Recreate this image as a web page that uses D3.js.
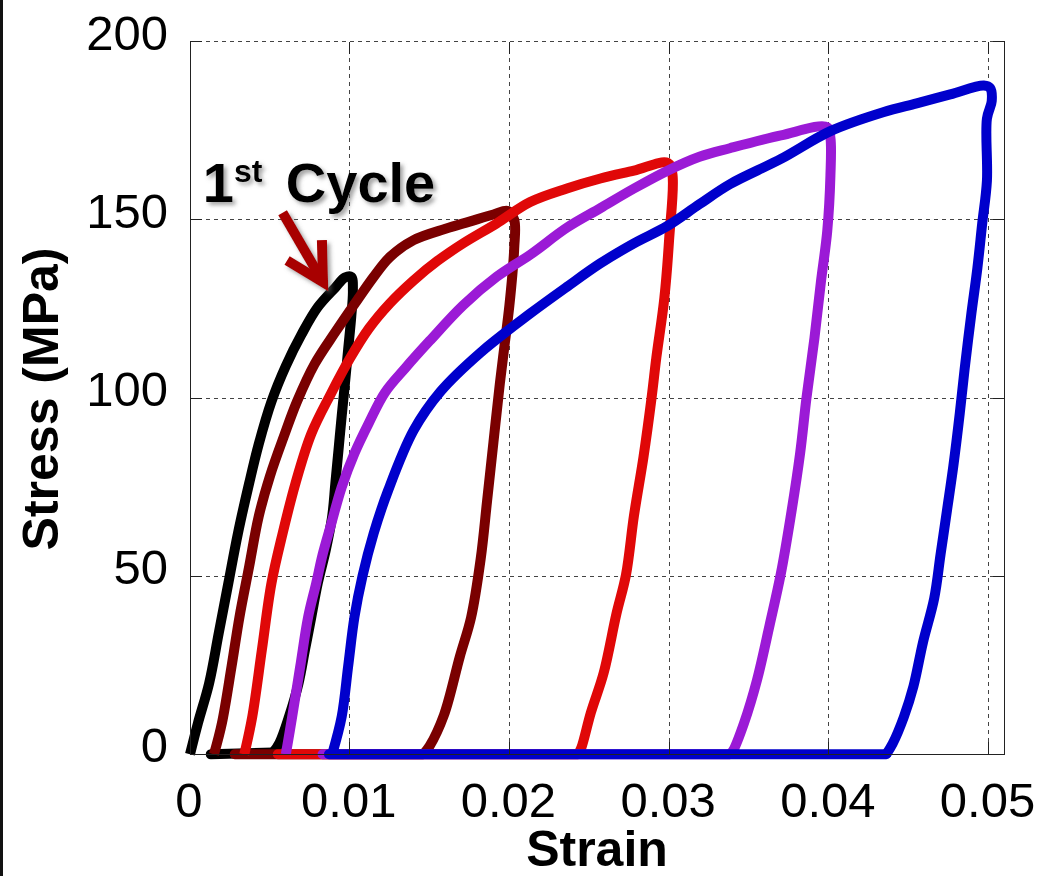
<!DOCTYPE html>
<html>
<head>
<meta charset="utf-8">
<script src="https://cdn.jsdelivr.net/npm/d3@7"></script>
<style>
  body { margin: 0; background: #fff; }
  svg { display: block; }
  text { font-family: "Liberation Sans", Arial, sans-serif; }
</style>
</head>
<body>
<div id="viz"></div>
<script>
// strain / stress pairs, one array per load cycle
// (the last point of each is where the zero-stress return ends)
const cycle1 = [[0,0],[0.0005,8.8],[0.0012,20],[0.0018,34],[0.0024,48],[0.0030,62],[0.0037,76],[0.0043,87],
  [0.0051,99],[0.0060,109],[0.0070,118],[0.0080,125.5],[0.0091,131],[0.0097,133.8],[0.0101,134],[0.0102,130],
  [0.0101,123],[0.0099,113.5],[0.0097,104],[0.0095,95],[0.0093,85.5],[0.0091,76],[0.0089,66.7],[0.0085,57.3],
  [0.0080,48],[0.0076,38.6],[0.0072,29.3],[0.0068,20],[0.0062,10.6],[0.0056,3.2],[0.0052,0.5],[0.0013,0]];

const cycle2 = [[0.0015,0],[0.0020,8.8],[0.0026,24.6],[0.0031,38.6],[0.0037,52.6],[0.0043,66.7],[0.0050,78],
  [0.0059,89.5],[0.0067,99],[0.0078,109.5],[0.0091,118.5],[0.0104,127],[0.0115,134],[0.0125,139.5],[0.0140,144.3],
  [0.0160,147.5],[0.0175,149.5],[0.0190,151.5],[0.0199,152.5],[0.0203,150],[0.0203,142],[0.0200,126],[0.0197,115],
  [0.0194,104],[0.0190,87.6],[0.0186,71],[0.0182,54.8],[0.0176,38.4],[0.0169,27.5],[0.0159,11],[0.0150,2.3],
  [0.0146,0],[0.0028,0]];

const cycle3 = [[0.0034,0],[0.0039,10.6],[0.0045,29.3],[0.0051,48],[0.0058,62],[0.0066,76],[0.0076,90],
  [0.0088,101],[0.0100,111],[0.0112,119.5],[0.0125,126.5],[0.0140,133],[0.0155,138.5],[0.0171,143.4],
  [0.0192,149],[0.0213,155],[0.0236,158.8],[0.0257,161.6],[0.0278,163.8],[0.0299,166],[0.0302,163],
  [0.0300,144.5],[0.0297,128],[0.0292,111.3],[0.0289,100],[0.0284,83.6],[0.0278,67],[0.0273,50.4],
  [0.0267,39.4],[0.0259,22.8],[0.0251,11.7],[0.0245,1.8],[0.0243,0],[0.0055,0]];

const cycle4 = [[0.0060,0],[0.0064,10.6],[0.0069,24.6],[0.0074,38.6],[0.0079,48],[0.0083,56],[0.0088,64],
  [0.0095,75],[0.0103,84.5],[0.0112,93],[0.0122,101.5],[0.0135,108.5],[0.0150,116],[0.0171,126],[0.0192,134],
  [0.0213,140.2],[0.0236,147.8],[0.0257,153.3],[0.0278,158.8],[0.0299,163.8],[0.0319,167.7],[0.0338,170.1],
  [0.0370,173.7],[0.0399,176],[0.0401,173],[0.0401,162.4],[0.0399,146.8],[0.0395,132.4],[0.0391,116.8],
  [0.0386,100],[0.0382,84.4],[0.0376,66.4],[0.0370,50.8],[0.0363,36.4],[0.0355,20.8],[0.0347,8.9],
  [0.0340,1],[0.0338,0],[0.0083,0]];

const cycle5 = [[0.0089,0],[0.0095,10.6],[0.0099,24.6],[0.0103,38.6],[0.0108,50],[0.0115,62],[0.0124,74],
  [0.0140,90.9],[0.0157,101.9],[0.0182,112.8],[0.0213,123.7],[0.0236,131.2],[0.0257,137.8],[0.0278,143.4],
  [0.0299,148.3],[0.0319,154.4],[0.0338,160],[0.0370,167.1],[0.0401,174.9],[0.0434,180.2],[0.0455,182.7],
  [0.0476,185.2],[0.0497,187.7],[0.0501,187],[0.0502,183.3],[0.0499,178.4],[0.0499,161],[0.0496,148.8],
  [0.0493,136.4],[0.0489,122.8],[0.0485,108],[0.0482,95.7],[0.0478,81],[0.0474,68.5],[0.0470,56.2],
  [0.0466,43.8],[0.0459,31.5],[0.0453,19.1],[0.0447,10.5],[0.0440,3],[0.0436,0],[0.0087,0]];

const cycle_colors = ['#000000', '#7a0000', '#e00808', '#9b1ad6', '#0000cc'];

const x_ticks = [0, 0.01, 0.02, 0.03, 0.04, 0.05];
const y_ticks = [0, 50, 100, 150, 200];

const LAYOUT = {
  width: 1041,
  height: 876,
  left: 190,
  right: 1004.5,
  top: 41.7,
  bottom: 754.3,
  tick: 12,
  line_width: 10
}

const svg = d3.select('#viz').append('svg')
  .attr('width', LAYOUT.width)
  .attr('height', LAYOUT.height);

// soft drop shadow for the annotation
const filter = svg.append('defs').append('filter')
  .attr('id', 'shadow')
  .attr('x', '-20%').attr('y', '-20%')
  .attr('width', '140%').attr('height', '140%');
filter.append('feDropShadow')
  .attr('dx', 3).attr('dy', 3)
  .attr('stdDeviation', 2)
  .attr('flood-color', '#666')
  .attr('flood-opacity', 0.6);

const x = d3.scaleLinear().domain([0, 0.051]).range([LAYOUT.left, LAYOUT.right]);
const y = d3.scaleLinear().domain([0, 200]).range([LAYOUT.bottom, LAYOUT.top]);

// black bar along the left edge of the picture
svg.append('rect')
  .attr('x', 0).attr('y', 0)
  .attr('width', 3).attr('height', LAYOUT.height)
  .attr('fill', '#111');

// dashed grid
const grid = svg.append('g').attr('stroke', '#444').attr('stroke-width', 1)
  .attr('stroke-dasharray', '4,4').attr('shape-rendering', 'crispEdges');
grid.selectAll('.vgrid').data(x_ticks).enter().append('line')
  .attr('x1', d => x(d)).attr('x2', d => x(d))
  .attr('y1', LAYOUT.top).attr('y2', LAYOUT.bottom);
grid.selectAll('.hgrid').data(y_ticks).enter().append('line')
  .attr('x1', LAYOUT.left).attr('x2', LAYOUT.right)
  .attr('y1', d => y(d)).attr('y2', d => y(d));

// cycles: smooth loop, then a straight return along zero stress
const smooth = d3.line()
  .x(d => x(d[0]))
  .y(d => y(d[1]))
  .curve(d3.curveCatmullRom.alpha(0.5));
const straight = d3.line()
  .x(d => x(d[0]))
  .y(d => y(d[1]));

const cycles = [cycle1, cycle2, cycle3, cycle4, cycle5];
const cycle_g = svg.append('g').selectAll('g')
  .data(cycles)
  .enter().append('g')
  .attr('fill', 'none')
  .attr('stroke', (d, i) => cycle_colors[i])
  .attr('stroke-width', LAYOUT.line_width)
  .attr('stroke-linejoin', 'round');

cycle_g.append('path')
  .attr('d', d => straight(d.slice(-2)))
  .attr('stroke-linecap', 'round');
cycle_g.append('path')
  .attr('d', d => smooth(d.slice(0, -1)))
  .attr('stroke-linecap', 'butt');

// frame and inward ticks on top of the data
const frame = svg.append('g').attr('stroke', '#222').attr('stroke-width', 1)
  .attr('fill', 'none').attr('shape-rendering', 'crispEdges');
frame.append('line').attr('x1', LAYOUT.left).attr('x2', LAYOUT.left).attr('y1', LAYOUT.top).attr('y2', LAYOUT.bottom);
frame.append('line').attr('x1', LAYOUT.right).attr('x2', LAYOUT.right).attr('y1', LAYOUT.top).attr('y2', LAYOUT.bottom);
frame.append('line').attr('x1', LAYOUT.left).attr('x2', LAYOUT.right).attr('y1', LAYOUT.bottom).attr('y2', LAYOUT.bottom);

x_ticks.forEach(t => {
  frame.append('line').attr('x1', x(t)).attr('x2', x(t))
    .attr('y1', LAYOUT.bottom).attr('y2', LAYOUT.bottom - LAYOUT.tick);
  frame.append('line').attr('x1', x(t)).attr('x2', x(t))
    .attr('y1', LAYOUT.top).attr('y2', LAYOUT.top + LAYOUT.tick);
});
y_ticks.forEach(t => {
  frame.append('line').attr('x1', LAYOUT.left).attr('x2', LAYOUT.left + LAYOUT.tick)
    .attr('y1', y(t)).attr('y2', y(t));
  frame.append('line').attr('x1', LAYOUT.right).attr('x2', LAYOUT.right - LAYOUT.tick)
    .attr('y1', y(t)).attr('y2', y(t));
});

// tick labels
svg.append('g').selectAll('text')
  .data(x_ticks).enter().append('text')
  .attr('x', d => x(d) - 1)
  .attr('y', 817)
  .attr('text-anchor', 'middle')
  .attr('font-size', 49)
  .text(d => d === 0 ? '0' : d.toFixed(2));

svg.append('g').selectAll('text')
  .data(y_ticks).enter().append('text')
  .attr('x', 168)
  .attr('y', d => y(d) + 8)
  .attr('text-anchor', 'end')
  .attr('font-size', 49)
  .text(d => d);

// axis titles
svg.append('text')
  .attr('x', 597).attr('y', 866)
  .attr('text-anchor', 'middle')
  .attr('font-size', 50).attr('font-weight', 'bold')
  .text('Strain');

svg.append('text')
  .attr('transform', 'translate(58,399) rotate(-90)')
  .attr('text-anchor', 'middle')
  .attr('font-size', 50).attr('font-weight', 'bold')
  .text('Stress (MPa)');

// "1st Cycle" annotation with arrow
const note = svg.append('g').attr('filter', 'url(#shadow)');
const note_text = note.append('text')
  .attr('x', x(0.0008)).attr('y', y(155))
  .attr('font-size', 56).attr('font-weight', 'bold')
  .attr('fill', '#000');
note_text.append('tspan').text('1');
note_text.append('tspan').attr('font-size', 32).attr('dy', -20).text('st');
note_text.append('tspan').attr('x', x(0.0060)).attr('dy', 20).text('Cycle');

const tail = [x(0.0058), y(152)];
const tip = [x(0.00833), y(132.5)];
const ang = Math.atan2(tail[1] - tip[1], tail[0] - tip[0]);
const arm = 42, spread = 0.5;
const armA = [tip[0] + arm * Math.cos(ang - spread), tip[1] + arm * Math.sin(ang - spread)];
const armB = [tip[0] + arm * Math.cos(ang + spread), tip[1] + arm * Math.sin(ang + spread)];

note.append('path')
  .attr('d', `M${tail[0]},${tail[1]}L${tip[0] + 4 * Math.cos(ang)},${tip[1] + 4 * Math.sin(ang)}`)
  .attr('stroke', '#a80000').attr('stroke-width', 10).attr('fill', 'none');
note.append('path')
  .attr('d', `M${armA[0]},${armA[1]}L${tip[0]},${tip[1]}L${armB[0]},${armB[1]}`)
  .attr('stroke', '#a80000').attr('stroke-width', 10).attr('fill', 'none')
  .attr('stroke-linejoin', 'miter');
</script>
</body>
</html>
